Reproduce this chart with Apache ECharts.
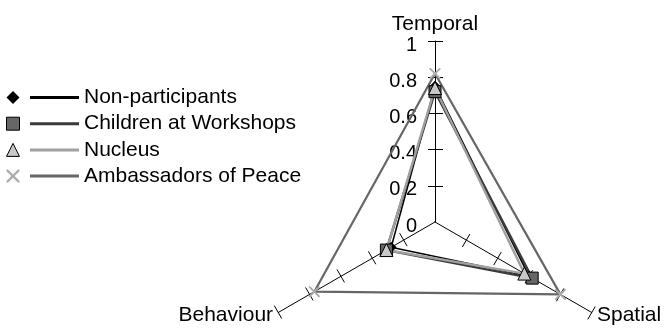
<!DOCTYPE html>
<html>
<head>
<meta charset="utf-8">
<script src="https://cdn.jsdelivr.net/npm/echarts@6/dist/echarts.min.js"></script>
<style>html,body{margin:0;padding:0;background:#fff}#c{width:668px;height:330px}</style>
</head>
<body>
<div id="c"></div>
<script>
// Axes (counter-clockwise from top, as ECharts radar lays them out)
const indicators = ['Temporal', 'Behaviour', 'Spatial'];
const tickValues = [0.2, 0.4, 0.6, 0.8, 1];
const labelValues = [0, 0.2, 0.4, 0.6, 0.8, 1];
const seriesNames = ['Non-participants', 'Children at Workshops', 'Nucleus', 'Ambassadors of Peace'];
// values in indicator order: Temporal, Behaviour, Spatial
const nonParticipants = [0.75, 0.28, 0.60];
const childrenWorkshops = [0.72, 0.31, 0.62];
const nucleus = [0.74, 0.31, 0.57];
const ambassadors = [0.82, 0.77, 0.80];

const FONT = '"Liberation Sans", Arial, Helvetica, sans-serif';
const xPath = 'path://M0,0 L1.2,0 L5,3.8 L8.8,0 L10,0 L10,1.2 L6.2,5 L10,8.8 L10,10 L8.8,10 L5,6.2 L1.2,10 L0,10 L0,8.8 L3.8,5 L0,1.2 Z';

const styles = [
  {line: '#000000', width: 1.6, symbol: 'diamond', size: 11, fill: '#000000', border: '#000000', bw: 0},
  {line: '#3a3a3a', width: 2.4, symbol: 'rect', size: 12, fill: '#666666', border: '#000000', bw: 1},
  {line: '#a0a0a0', width: 2.4, symbol: 'triangle', size: 13, fill: '#c8c8c8', border: '#000000', bw: 1},
  {line: '#666666', width: 2.2, symbol: xPath, size: 11, fill: '#ababab', border: '#ababab', bw: 0}
];
const values = [nonParticipants, childrenWorkshops, nucleus, ambassadors];

const radarBase = {
  center: [435, 222],
  radius: 181,
  startAngle: 90,
  splitNumber: 5,
  shape: 'polygon',
  splitLine: {show: false},
  splitArea: {show: false}
};

const option = {
  animation: false,
  backgroundColor: '#ffffff',
  textStyle: {fontFamily: FONT},
  radar: [
    Object.assign({}, radarBase, {
      indicator: indicators.map((n, i) => ({
        name: n, min: 0, max: 1,
        axisLabel: {show: i === 0}
      })),
      axisName: {color: '#000', fontSize: 21, fontFamily: FONT},
      nameGap: 6,
      axisLine: {show: true, lineStyle: {color: '#000', width: 1}},
      axisTick: {show: true, length: 7, lineStyle: {color: '#000', width: 1}, customValues: tickValues},
      axisLabel: {
        show: true, color: '#000', fontSize: 20, fontFamily: FONT, margin: 18,
        customValues: labelValues,
        formatter: v => '{a|' + v + '}',
        rich: {a: {color: '#000', fontSize: 20, fontFamily: FONT, padding: [8, 0, 0, 0]}}
      }
    }),
    Object.assign({}, radarBase, {
      indicator: indicators.map(n => ({name: n, min: 0, max: 1})),
      axisName: {show: false},
      axisLine: {show: false},
      axisTick: {show: true, length: -8, lineStyle: {color: '#000', width: 1}, customValues: tickValues},
      axisLabel: {show: false}
    })
  ],
  legend: [
    {
      orient: 'vertical', left: 6, top: 87, padding: 0,
      itemWidth: 13, itemHeight: 13, itemGap: 5.2,
      formatter: () => ' ',
      textStyle: {fontSize: 21, lineHeight: 20, fontFamily: FONT},
      selectedMode: false,
      data: seriesNames.map((n, i) => ({
        name: n, icon: styles[i].symbol,
        itemStyle: {color: styles[i].fill, borderColor: styles[i].border, borderWidth: styles[i].bw}
      }))
    },
    {
      orient: 'vertical', left: 30, top: 87, padding: 0,
      itemWidth: 49, itemHeight: 3, itemGap: 5.2,
      textStyle: {fontSize: 21, lineHeight: 20, color: '#000', fontFamily: FONT},
      selectedMode: false,
      data: seriesNames.map((n, i) => ({
        name: n, icon: 'rect',
        itemStyle: {color: styles[i].line, borderWidth: 0}
      }))
    }
  ],
  series: [{
    type: 'radar',
    radarIndex: 0,
    data: seriesNames.map((n, i) => ({
      name: n,
      value: values[i],
      symbol: styles[i].symbol,
      symbolSize: styles[i].size,
      lineStyle: {color: styles[i].line, width: styles[i].width},
      itemStyle: {color: styles[i].fill, borderColor: styles[i].border, borderWidth: styles[i].bw}
    }))
  }]
};

const chart = echarts.init(document.getElementById('c'), null, {renderer: 'canvas'});
chart.setOption(option);
</script>
</body>
</html>
